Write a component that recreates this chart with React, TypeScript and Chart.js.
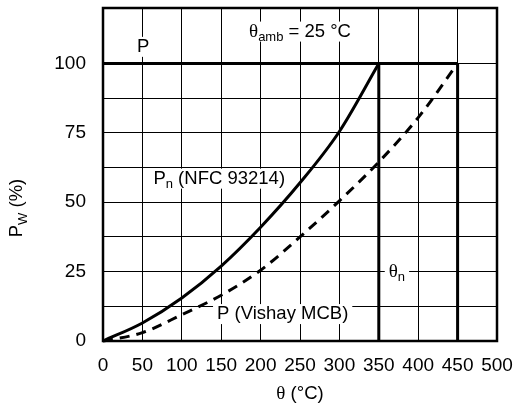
import { useEffect, useRef } from "react";
import { Chart, registerables } from "chart.js";
Chart.register(...registerables);

const SANS = '"Liberation Sans", Arial, Helvetica, sans-serif';
const SERIF = '"Liberation Serif", "Times New Roman", serif';

const pnTheta = [0, 50, 100, 150, 200, 250, 300, 350];
const pnValues = [0, 6.5, 15.5, 27, 41, 57, 75.5, 100];
const vishayTheta = [0, 50, 100, 150, 200, 250, 300, 350, 400, 450];
const vishayValues = [0, 3, 9.5, 16.5, 25.5, 37.5, 50.5, 64.5, 80.5, 100];
const limitLine = [
  { x: 0, y: 100 },
  { x: 450, y: 100 },
];
const pnDrop = [
  { x: 350, y: 100 },
  { x: 350, y: 0 },
];
const vishayDrop = [
  { x: 450, y: 100 },
  { x: 450, y: 0 },
];
const yLabeled = [0, 25, 50, 75, 100];

type Part = { t: string; font: string; dy: number };

function drawRich(ctx: CanvasRenderingContext2D, cx: number, cy: number, parts: Part[], bg: boolean) {
  ctx.save();
  let w = 0;
  const widths = parts.map((p) => {
    ctx.font = p.font;
    const m = ctx.measureText(p.t).width;
    w += m;
    return m;
  });
  if (bg) {
    ctx.fillStyle = "#fff";
    ctx.fillRect(cx - w / 2 - 4, cy - 10, w + 8, 20);
  }
  ctx.fillStyle = "#000";
  ctx.textBaseline = "middle";
  ctx.textAlign = "left";
  let x = cx - w / 2;
  parts.forEach((p, i) => {
    ctx.font = p.font;
    ctx.fillText(p.t, x, cy + p.dy);
    x += widths[i];
  });
  ctx.restore();
}

const f18 = `18.5px ${SANS}`;
const f13 = `13px ${SANS}`;
const th = `19px ${SERIF}`;

const labelsPlugin = {
  id: "labels",
  beforeDatasetsDraw(chart: any) {
    const ctx = chart.ctx as CanvasRenderingContext2D;
    const xs = chart.scales.x;
    const ys = chart.scales.y;
    const px = (v: number) => xs.getPixelForValue(v);
    const py = (v: number) => ys.getPixelForValue(v);
    drawRich(ctx, px(250), py(111.5), [
      { t: "θ", font: th, dy: 0 },
      { t: "amb", font: f13, dy: 6 },
      { t: " = 25 °C", font: f18, dy: 0 },
    ], true);
    drawRich(ctx, px(51), py(106), [{ t: "P", font: f18, dy: 0 }], true);
    drawRich(ctx, px(147.5), py(58.5), [
      { t: "P", font: f18, dy: 0 },
      { t: "n", font: f13, dy: 6 },
      { t: " (NFC 93214)", font: f18, dy: 0 },
    ], true);
    drawRich(ctx, px(373), py(25), [
      { t: "θ", font: th, dy: 0 },
      { t: "n", font: f13, dy: 6 },
    ], true);
    drawRich(ctx, px(228), py(9.7), [{ t: "P (Vishay MCB)", font: f18, dy: 0 }], true);
  },
  afterDraw(chart: any) {
    const ctx = chart.ctx as CanvasRenderingContext2D;
    const a = chart.chartArea;
    ctx.save();
    ctx.strokeStyle = "#000";
    ctx.lineWidth = 2.5;
    ctx.strokeRect(a.left, a.top, a.right - a.left, a.bottom - a.top);
    ctx.restore();
    drawRich(ctx, (a.left + a.right) / 2, 394, [
      { t: "θ", font: th, dy: 0 },
      { t: " (°C)", font: f18, dy: 0 },
    ], false);
    ctx.save();
    ctx.translate(17, 208);
    ctx.rotate(-Math.PI / 2);
    drawRich(ctx, 0, 0, [
      { t: "P", font: f18, dy: 0 },
      { t: "W", font: f13, dy: 6 },
      { t: " (%)", font: f18, dy: 0 },
    ], false);
    ctx.restore();
  },
};

function noPad(s: any) {
  s.paddingLeft = 0;
  s.paddingRight = 0;
  s.paddingTop = 0;
  s.paddingBottom = 0;
}

export default function App() {
  const ref = useRef<HTMLCanvasElement>(null);
  useEffect(() => {
    if (!ref.current) return;
    const solid = { borderColor: "#000", borderWidth: 3, pointRadius: 0, fill: false, clip: false as any };
    const chart = new Chart(ref.current, {
      type: "line",
      data: {
        datasets: [
          {
            ...solid,
            data: pnTheta.map((x, i) => ({ x, y: pnValues[i] })),
            tension: 0.4,
            cubicInterpolationMode: "monotone",
          },
          {
            ...solid,
            data: vishayTheta.map((x, i) => ({ x, y: vishayValues[i] })),
            tension: 0.4,
            cubicInterpolationMode: "monotone",
            borderDash: [10, 7],
          },
          { ...solid, data: limitLine },
          { ...solid, data: pnDrop },
          { ...solid, data: vishayDrop },
        ],
      },
      options: {
        responsive: false,
        animation: false,
        events: [],
        layout: { padding: { top: 8, right: 17, left: 0, bottom: 0 } },
        plugins: { legend: { display: false }, tooltip: { enabled: false } },
        scales: {
          x: {
            type: "linear",
            min: 0,
            max: 500,
            afterFit: (s: any) => {
              s.height = 65;
              noPad(s);
            },
            ticks: { stepSize: 50, color: "#000", font: { family: SANS, size: 19 }, padding: 13, maxRotation: 0, autoSkip: false },
            grid: { color: "#000", lineWidth: 1, drawTicks: false },
            border: { display: false },
          },
          y: {
            type: "linear",
            min: 0,
            max: 120,
            afterFit: (s: any) => {
              s.width = 103;
              noPad(s);
            },
            ticks: {
              stepSize: 12.5,
              color: "#000",
              font: { family: SANS, size: 19 },
              padding: 17,
              autoSkip: false,
              callback: (v: any) => (yLabeled.includes(Number(v)) ? String(v) : ""),
            },
            grid: { color: "#000", lineWidth: 1, drawTicks: false },
            border: { display: false },
          },
        },
      },
      plugins: [labelsPlugin],
    });
    return () => chart.destroy();
  }, []);
  return (
    <div style={{ position: "fixed", left: 0, top: 0, width: 514, height: 406, background: "#fff" }}>
      <canvas ref={ref} width={514} height={406} style={{ display: "block" }} />
    </div>
  );
}
